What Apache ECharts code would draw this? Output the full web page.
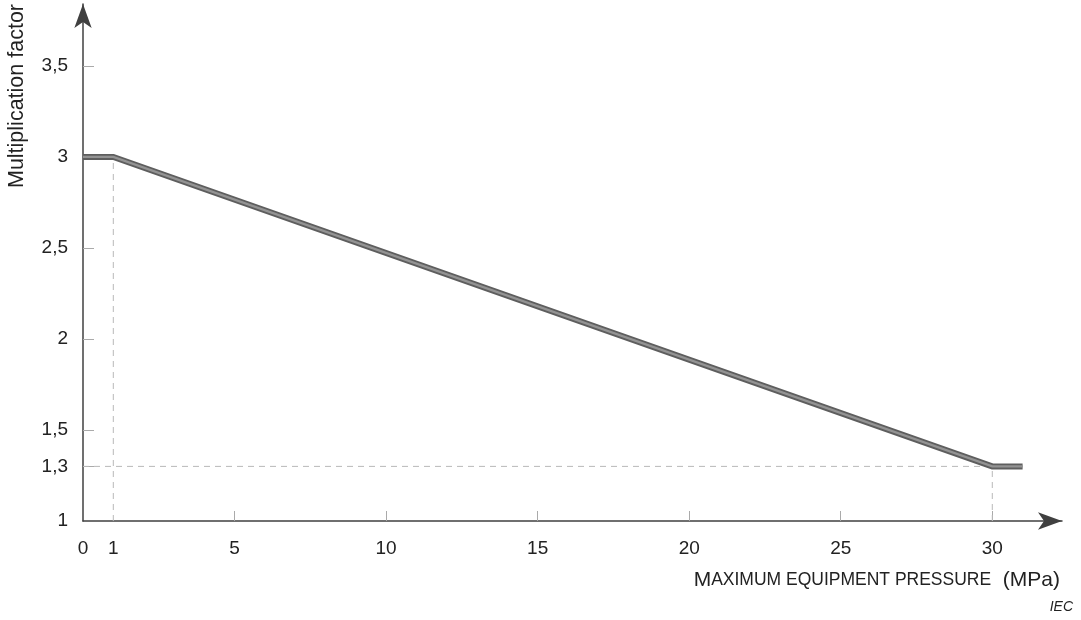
<!DOCTYPE html>
<html>
<head>
<meta charset="utf-8">
<script src="https://cdn.jsdelivr.net/npm/echarts@6/dist/echarts.min.js"></script>
<style>html,body{margin:0;padding:0;background:#fff}#c{width:1081px;height:620px}</style>
</head>
<body>
<div id="c"></div>
<script>
// Data
const curveX = [0, 1, 30, 31];
const curveY = [3, 3, 1.3, 1.3];
const xTickLabels = [0, 1, 5, 10, 15, 20, 25, 30];
const xTickMarks = [5, 10, 15, 20, 25, 30];
const yTickLabels = [1, 1.3, 1.5, 2, 2.5, 3, 3.5];
const yTickMarks = [1.3, 1.5, 2, 2.5, 3, 3.5];
const guideV1 = [[1, 1], [1, 3]];
const guideH = [[0, 1.3], [30, 1.3]];
const guideV30 = [[30, 1], [30, 1.3]];

const curve = curveX.map((x, i) => [x, curveY[i]]);
const fmt = v => String(v).replace('.', ',');
const font = 'Liberation Sans, Arial, sans-serif';

const chart = echarts.init(document.getElementById('c'));
const dashed = data => ({
  type: 'line', data, symbol: 'none', silent: true,
  lineStyle: { color: '#b8b8b8', width: 1, type: [6, 5] }, z: 1
});
chart.setOption({
  animation: false,
  grid: { left: 83, right: 19, top: 4, bottom: 99 },
  xAxis: {
    type: 'value', min: 0, max: 32.3,
    splitLine: { show: false },
    axisLine: { lineStyle: { color: '#404040', width: 1.5 }, symbol: ['none', 'arrow'], symbolSize: [13, 24] },
    axisTick: { show: true, inside: true, length: 10, lineStyle: { color: '#aaa', width: 1 }, customValues: xTickMarks },
    axisLabel: { customValues: xTickLabels, formatter: fmt, color: '#222', fontSize: 19, fontFamily: font, margin: 18 }
  },
  yAxis: {
    type: 'value', min: 1, max: 3.84,
    splitLine: { show: false },
    axisLine: { lineStyle: { color: '#404040', width: 1.5 }, symbol: ['none', 'arrow'], symbolSize: [13, 24] },
    axisTick: { show: true, inside: true, length: 11, lineStyle: { color: '#aaa', width: 1 }, customValues: yTickMarks },
    axisLabel: { customValues: yTickLabels, formatter: fmt, color: '#222', fontSize: 19, fontFamily: font, margin: 15 }
  },
  series: [
    dashed(guideV1), dashed(guideH), dashed(guideV30),
    { type: 'line', data: curve, symbol: 'none', silent: true, lineStyle: { color: '#5e5e5e', width: 6, cap: 'butt', join: 'miter' }, z: 3 },
    { type: 'line', data: curve, symbol: 'none', silent: true, lineStyle: { color: '#939393', width: 2.4, cap: 'butt', join: 'miter' }, z: 4 }
  ],
  graphic: [
    { type: 'text', x: 17, y: 4, rotation: Math.PI / 2, style: { text: 'Multiplication factor', font: '21.5px ' + font, fill: '#222', align: 'right', verticalAlign: 'middle' } },
    { type: 'text', x: 1060, y: 580, style: {
        text: '{b|M}{s|AXIMUM EQUIPMENT PRESSURE}{b|  (MPa)}',
        align: 'right', verticalAlign: 'middle',
        rich: { b: { fontSize: 21, fontFamily: font, fill: '#222' }, s: { fontSize: 17.5, fontFamily: font, fill: '#222' } }
      } },
    { type: 'text', x: 1073, y: 607, style: { text: 'IEC', font: 'italic 14px ' + font, fill: '#222', align: 'right', verticalAlign: 'middle' } }
  ]
});
</script>
</body>
</html>
